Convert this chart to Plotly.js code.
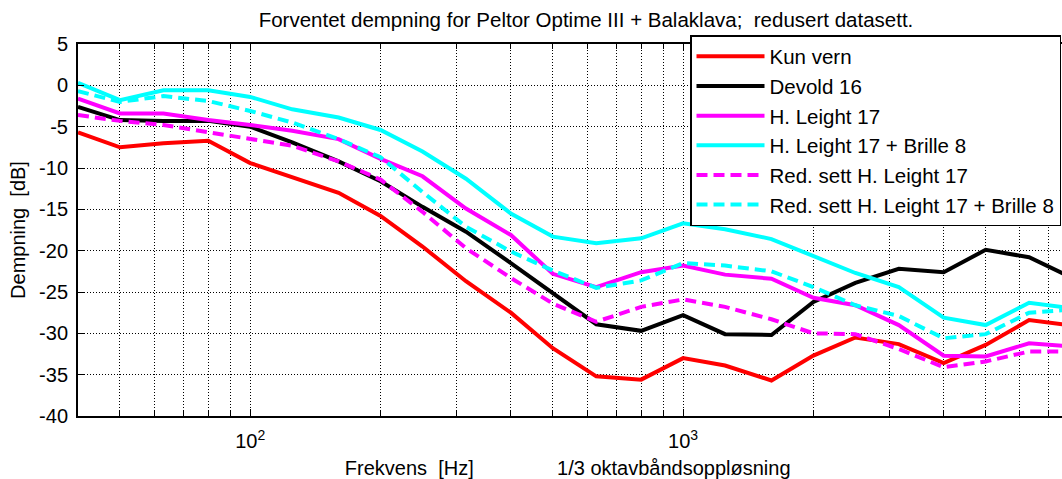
<!DOCTYPE html>
<html>
<head>
<meta charset="utf-8">
<script src="https://cdn.plot.ly/plotly-3.0.1.min.js"></script>
<style>
html,body{margin:0;padding:0;overflow:hidden;background:#fff;width:1062px;height:479px;}
#chart{width:1120px;height:479px;}
</style>
</head>
<body>
<div id="chart"></div>
<script>
// 1/3-octave band centre frequencies [Hz]
const freqs = [40,50,63,80,100,125,160,200,250,315,400,500,630,800,1000,1250,1600,2000,2500,3150,4000,5000,6300,8000];

// Series (attenuation, dB)
const kunVern      = [-5.7,-7.5,-7.0,-6.7,-9.4,-11.1,-13.0,-15.8,-19.5,-23.7,-27.5,-31.8,-35.2,-35.6,-33.0,-33.9,-35.7,-32.7,-30.5,-31.3,-33.6,-31.4,-28.4,-29.1];
const devold16     = [-2.6,-4.2,-4.3,-4.3,-5.0,-6.9,-9.2,-11.6,-14.7,-17.7,-21.5,-25.2,-28.9,-29.7,-27.8,-30.1,-30.2,-26.2,-23.9,-22.2,-22.6,-19.9,-20.8,-23.4];
const hLeight17    = [-1.6,-3.4,-3.4,-4.2,-4.8,-5.5,-6.5,-8.9,-11.0,-14.9,-18.1,-22.8,-24.4,-22.6,-21.8,-22.9,-23.4,-25.7,-26.6,-29.0,-32.7,-32.8,-31.2,-31.6];
const hLeightBrille= [0.3,-1.8,-0.6,-0.6,-1.4,-2.9,-3.9,-5.4,-8.0,-11.3,-15.5,-18.3,-19.1,-18.5,-16.7,-17.4,-18.6,-20.6,-22.7,-24.4,-28.1,-29.0,-26.3,-27.0];
const redHLeight   = [-3.6,-4.3,-4.8,-5.7,-6.5,-7.3,-9.2,-11.4,-15.3,-19.7,-23.3,-26.4,-28.6,-26.8,-25.9,-26.8,-28.3,-30.0,-30.1,-31.9,-34.1,-33.4,-32.2,-32.2];
const redHLBrille  = [-0.7,-2.0,-1.3,-1.9,-3.1,-4.5,-6.5,-8.7,-12.9,-17.1,-20.1,-22.4,-24.5,-23.6,-21.5,-21.8,-22.5,-24.4,-26.6,-27.9,-30.6,-30.1,-27.5,-27.1];

const seriesNames = ["Kun vern","Devold 16","H. Leight 17","H. Leight 17 + Brille 8","Red. sett H. Leight 17","Red. sett H. Leight 17 + Brille 8"];

// Axis ticks
const xTickVals = [100,1000];
const xTickText = ["10<sup>2</sup>","10<sup>3</sup>"];
const xMinorVals = [50,60,70,80,90,200,300,400,500,600,700,800,900,2000,3000,4000,5000,6000,7000,8000];
const yTickVals = [5,0,-5,-10,-15,-20,-25,-30,-35,-40];
const yTickText = ["5","0","-5","-10","-15","-20","-25","-30","-35","-40"];

const FONT = "Liberation Sans, Arial, sans-serif";
const dashPat = "11px,6px";
const NB = "\u00a0";

const ys = [kunVern, devold16, hLeight17, hLeightBrille, redHLeight, redHLBrille];
const styles = [
  {color:"#ff0000", dash:"solid"},
  {color:"#000000", dash:"solid"},
  {color:"#ff00ff", dash:"solid"},
  {color:"#00ffff", dash:"solid"},
  {color:"#ff00ff", dash:dashPat},
  {color:"#00ffff", dash:dashPat}
];

const traces = ys.map((y,i)=>({
  x: freqs, y: y, type:"scatter", mode:"lines", name: seriesNames[i],
  line:{color:styles[i].color, width:4, dash:styles[i].dash}
}));

const gridCommon = {gridcolor:"#000", gridwidth:1, griddash:"1px,2px"};

const layout = {
  width:1120, height:479,
  margin:{l:78, r:46, t:44, b:63, pad:0},
  paper_bgcolor:"#ffffff", plot_bgcolor:"#ffffff",
  font:{family:FONT, size:20, color:"#000"},
  showlegend:true,
  title:{text:"Forventet dempning for Peltor Optime III + Balaklava;" + NB + " redusert datasett.",
         font:{family:FONT, size:20.5, color:"#000"},
         x:586/1120, xref:"container", xanchor:"center",
         y:1-20/479, yref:"container", yanchor:"middle"},
  xaxis:Object.assign({
    type:"log", range:[Math.log10(40), Math.log10(8000)],
    tickmode:"array", tickvals:xTickVals, ticktext:xTickText,
    ticks:"inside", ticklen:7, tickwidth:1, tickcolor:"#000",
    minor:Object.assign({tickmode:"array", tickvals:xMinorVals, ticks:"inside", ticklen:5, tickwidth:1, tickcolor:"#000", showgrid:true}, gridCommon),
    showline:true, linecolor:"#000", linewidth:2, mirror:"ticks",
    showgrid:true,
    zeroline:false, tickfont:{family:FONT, size:20, color:"#000"},
    ticklabelstandoff:6,
    title:{text:"Frekvens" + NB + " [Hz]" + NB.repeat(14) + " 1/3 oktavbåndsoppløsning" + NB.repeat(3) + "\u200b",
           font:{family:FONT, size:20, color:"#000"}, standoff:10},
    automargin:false, fixedrange:true
  }, gridCommon),
  yaxis:Object.assign({
    range:[-40,5], tickmode:"array", tickvals:yTickVals, ticktext:yTickText,
    ticks:"inside", ticklen:6, tickwidth:1, tickcolor:"#000",
    showline:true, linecolor:"#000", linewidth:2, mirror:"ticks",
    showgrid:true,
    zeroline:false, tickfont:{family:FONT, size:20, color:"#000"},
    ticklabelstandoff:4,
    title:{text:"Dempning" + NB + " [dB]", font:{family:FONT, size:20, color:"#000"}, standoff:8},
    automargin:false, fixedrange:true
  }, gridCommon),
  legend:{
    x:(690-78)/996, y:(416-35)/372, xanchor:"left", yanchor:"top",
    bgcolor:"#ffffff", bordercolor:"#000", borderwidth:1.5,
    font:{family:FONT, size:20.5, color:"#000"},
    itemwidth:68
  }
};

Plotly.newPlot("chart", traces, layout, {displayModeBar:false, staticPlot:true});
</script>
</body>
</html>
